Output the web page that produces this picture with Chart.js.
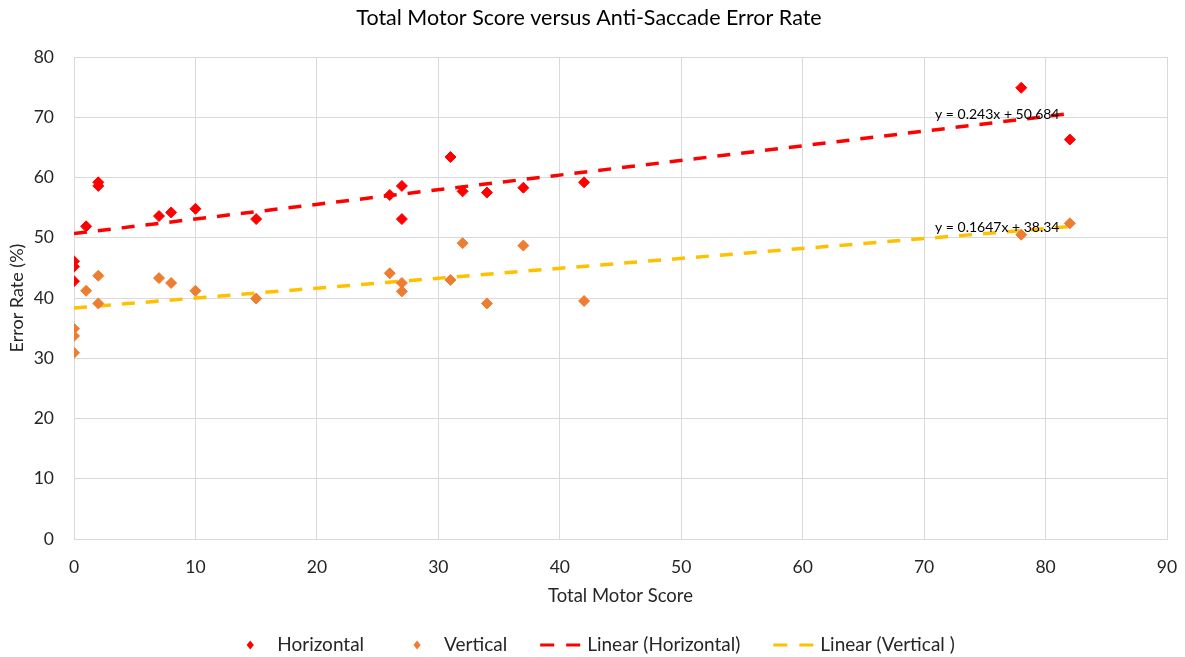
<!DOCTYPE html>
<html>
<head>
<meta charset="utf-8">
<script src="https://cdn.jsdelivr.net/npm/chart.js@4/dist/chart.umd.min.js"></script>
<style>
  html, body { margin: 0; padding: 0; background: #ffffff; }
  #wrap { width: 1185px; height: 657px; position: relative; }
</style>
</head>
<body>
<div id="wrap"><canvas id="chart"></canvas></div>
<script>
// Total motor score of each participant (shared by both saccade directions)
const motorScore = [0, 0, 0, 1, 2, 2, 7, 8, 10, 15, 26, 27, 27, 31, 32, 34, 37, 42, 78, 82];
// Anti-saccade error rate (%) for horizontal and vertical trials
const horizontalRate = [46.1, 45.2, 42.8, 51.9, 59.2, 58.6, 53.6, 54.2, 54.8, 53.1, 57.1, 58.6, 53.1, 63.4, 57.7, 57.5, 58.3, 59.2, 74.9, 66.3];
const verticalRate = [34.9, 33.7, 30.9, 41.2, 43.7, 39.1, 43.3, 42.5, 41.2, 39.9, 44.1, 42.5, 41.1, 43.0, 49.1, 39.1, 48.7, 39.5, 50.5, 52.4];
// Linear fits (horizontal, vertical)
const trendSlope = [0.243, 0.1647];
const trendIntercept = [50.684, 38.34];
const trendEquation = ['y = 0.243x + 50.684', 'y = 0.1647x + 38.34'];
const seriesNames = ['Horizontal', 'Vertical', 'Linear (Horizontal)', 'Linear (Vertical )'];
const chartTitle = 'Total Motor Score versus Anti-Saccade Error Rate';
const xTickValues = [0, 10, 20, 30, 40, 50, 60, 70, 80, 90];
const yTickValues = [0, 10, 20, 30, 40, 50, 60, 70, 80];

const FONT = 'Lato, "Open Sans", sans-serif';
const TEXT = '#262626';
const RED = '#ff0000';
const ORANGE = '#ed7d31';
const GOLD = '#ffc000';

const toPoints = (xs, ys) => xs.map((x, i) => ({ x, y: ys[i] }));
const xMin = Math.min(...motorScore);
const xMax = Math.max(...motorScore);
const trendPoints = k => [xMin, xMax].map(x => ({ x, y: trendSlope[k] * x + trendIntercept[k] }));

// Where each fit equation is written, in data units (left edge, vertical centre)
const equationAnchor = [{ x: 70.9, y: 70.5 }, { x: 70.9, y: 51.75 }];

const equationPlugin = {
  id: 'equations',
  afterDatasetsDraw(chart) {
    const { ctx, scales } = chart;
    ctx.save();
    ctx.font = '14px ' + FONT;
    ctx.fillStyle = '#000000';
    ctx.textAlign = 'left';
    ctx.textBaseline = 'middle';
    trendEquation.forEach((txt, k) => {
      ctx.fillText(txt, scales.x.getPixelForValue(equationAnchor[k].x), scales.y.getPixelForValue(equationAnchor[k].y));
    });
    ctx.restore();
  }
};

// Chart heading, centred over the page width
const headingPlugin = {
  id: 'heading',
  afterDraw(chart) {
    const { ctx } = chart;
    ctx.save();
    ctx.font = '21.5px ' + FONT;
    ctx.fillStyle = '#000000';
    ctx.textAlign = 'center';
    ctx.textBaseline = 'middle';
    ctx.fillText(chartTitle, 589, 18);
    ctx.restore();
  }
};

// Legend row along the bottom edge
const legendPlugin = {
  id: 'bottomLegend',
  afterDraw(chart) {
    const { ctx } = chart;
    const slot = 40, gapText = 7, gapItem = 33, yMid = 645, centreX = 592.5;
    ctx.save();
    ctx.font = '19px ' + FONT;
    ctx.textBaseline = 'middle';
    ctx.textAlign = 'left';
    const items = chart.data.datasets.map(ds => ({
      text: ds.label, color: ds.borderColor, isLine: ds.type === 'line', w: ctx.measureText(ds.label).width
    }));
    const total = items.reduce((s, it) => s + slot + gapText + it.w, 0) + gapItem * (items.length - 1);
    let x = centreX - total / 2;
    items.forEach(it => {
      if (it.isLine) {
        ctx.strokeStyle = it.color;
        ctx.lineWidth = 3.2;
        ctx.setLineDash([14, 12]);
        ctx.beginPath();
        ctx.moveTo(x, yMid);
        ctx.lineTo(x + slot, yMid);
        ctx.stroke();
        ctx.setLineDash([]);
      } else {
        const cx = x + slot / 2, r = 4.5;
        ctx.fillStyle = it.color;
        ctx.beginPath();
        ctx.moveTo(cx, yMid - r);
        ctx.lineTo(cx + r * 0.8, yMid);
        ctx.lineTo(cx, yMid + r);
        ctx.lineTo(cx - r * 0.8, yMid);
        ctx.closePath();
        ctx.fill();
      }
      ctx.fillStyle = TEXT;
      ctx.fillText(it.text, x + slot + gapText, yMid);
      x += slot + gapText + it.w + gapItem;
    });
    ctx.restore();
  }
};

new Chart(document.getElementById('chart'), {
  data: {
    datasets: [
      { type: 'scatter', label: seriesNames[0], data: toPoints(motorScore, horizontalRate),
        backgroundColor: RED, borderColor: RED, borderWidth: 1, pointStyle: 'rectRot', pointRadius: 5.5, order: 0 },
      { type: 'scatter', label: seriesNames[1], data: toPoints(motorScore, verticalRate),
        backgroundColor: ORANGE, borderColor: ORANGE, borderWidth: 1, pointStyle: 'rectRot', pointRadius: 5.5, order: 0 },
      { type: 'line', label: seriesNames[2], data: trendPoints(0), borderColor: RED, backgroundColor: RED,
        borderWidth: 3.5, borderDash: [13, 11], pointRadius: 0, fill: false, tension: 0, order: 1 },
      { type: 'line', label: seriesNames[3], data: trendPoints(1), borderColor: GOLD, backgroundColor: GOLD,
        borderWidth: 3.5, borderDash: [13, 11], pointRadius: 0, fill: false, tension: 0, order: 1 }
    ]
  },
  options: {
    responsive: true,
    maintainAspectRatio: false,
    animation: false,
    events: [],
    layout: { padding: { left: 0, right: 18, top: 57, bottom: 0 } },
    plugins: {
      legend: { display: false },
      tooltip: { enabled: false },
      title: { display: false }
    },
    scales: {
      x: {
        type: 'linear',
        min: 0, max: 90,
        afterBuildTicks: s => { s.ticks = xTickValues.map(v => ({ value: v })); },
        afterFit: s => { s.height = 118; s.paddingLeft = 0; s.paddingRight = 0; },
        grid: { color: '#d9d9d9', lineWidth: 1, drawTicks: false },
        border: { color: '#d9d9d9', width: 1 },
        ticks: { color: TEXT, font: { family: FONT, size: 17.5 }, padding: 18, maxRotation: 0 },
        title: { display: true, text: 'Total Motor Score', color: TEXT,
          font: { family: FONT, size: 18.5, lineHeight: 1.2 }, padding: { top: 0, bottom: 50 } }
      },
      y: {
        type: 'linear',
        min: 0, max: 80,
        afterBuildTicks: s => { s.ticks = yTickValues.map(v => ({ value: v })); },
        afterFit: s => { s.width = 74; s.paddingTop = 0; s.paddingBottom = 0; },
        grid: { color: '#d9d9d9', lineWidth: 1, drawTicks: false },
        border: { color: '#d9d9d9', width: 1 },
        ticks: { color: TEXT, font: { family: FONT, size: 17.5 }, padding: 20 },
        title: { display: true, text: 'Error Rate (%)', color: TEXT,
          font: { family: FONT, size: 18, lineHeight: 1.2 }, padding: { top: 6, bottom: 0 } }
      }
    }
  },
  plugins: [equationPlugin, headingPlugin, legendPlugin]
});
</script>
</body>
</html>
